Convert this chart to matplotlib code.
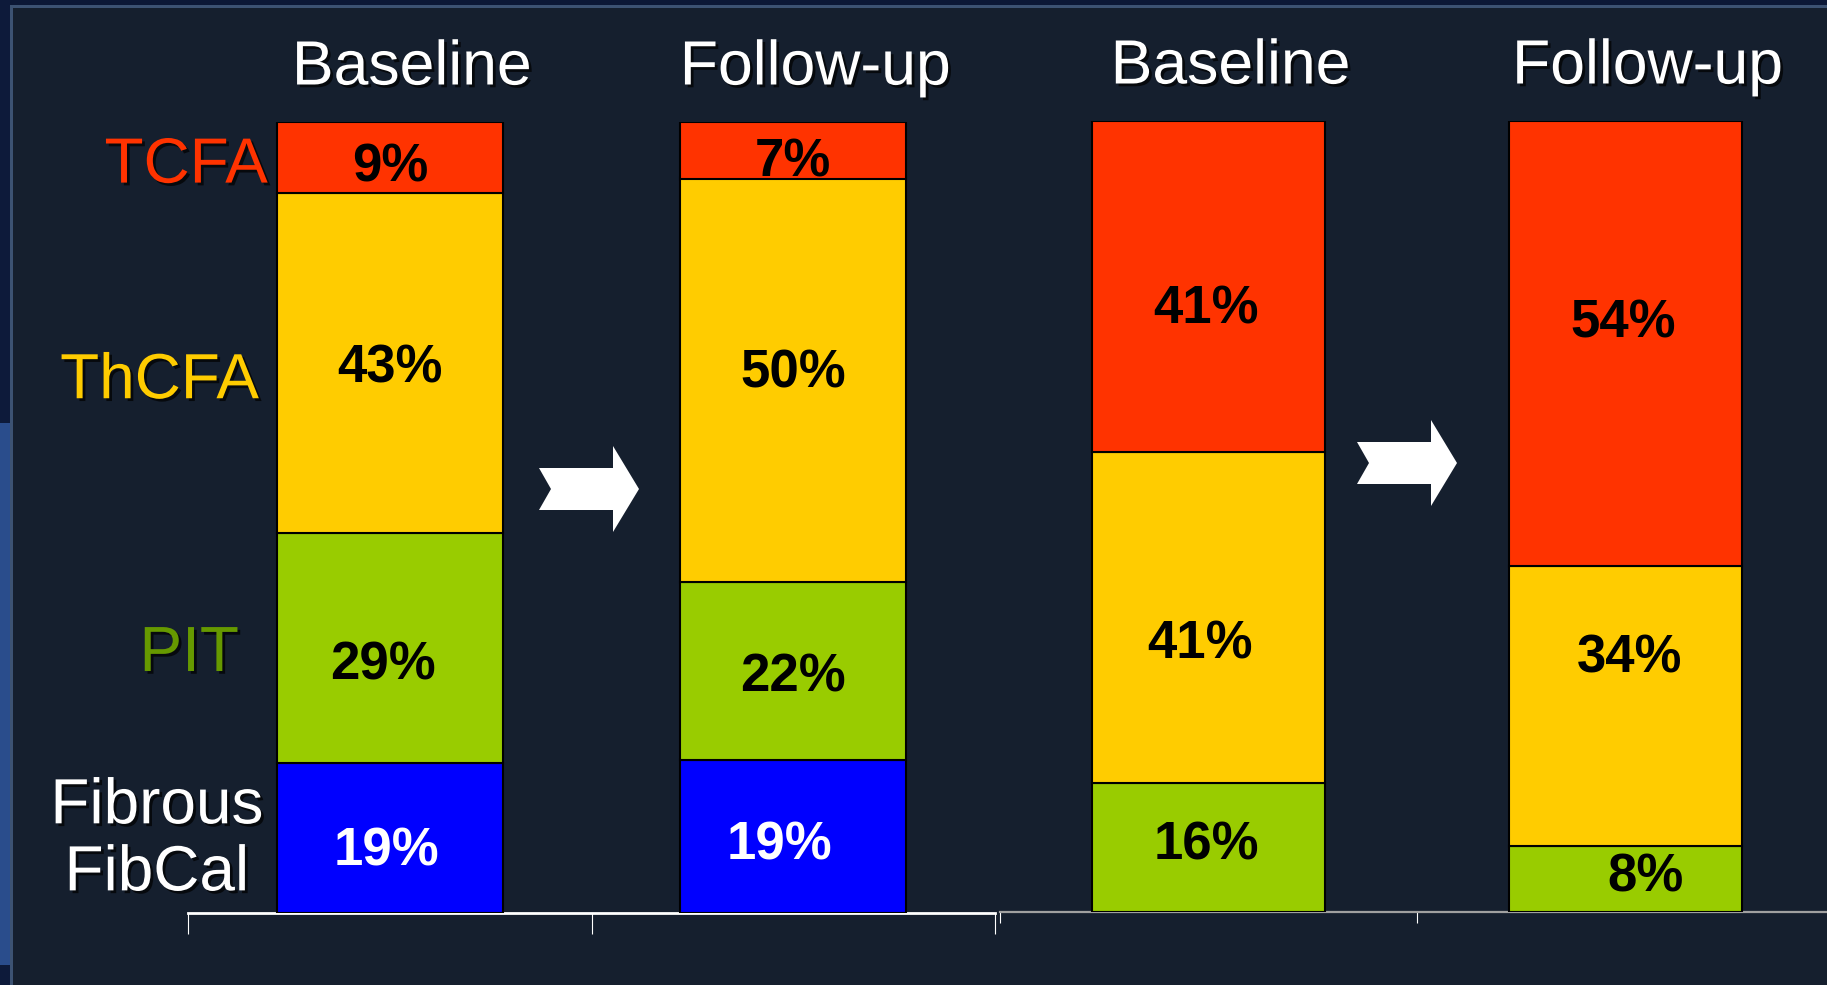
import matplotlib
matplotlib.use("Agg")
import matplotlib.pyplot as plt
import matplotlib.patheffects as pe
from matplotlib.patches import Polygon, Rectangle
import numpy as np

plt.rcParams['font.family'] = ['Liberation Sans', 'DejaVu Sans']

# plaque phenotypes, listed top to bottom of each stacked bar
phenotypes = ["TCFA", "ThCFA", "PIT", "Fibrous\nFibCal"]
timepoints = ["Baseline", "Follow-up"]
# percentages shown in the bars (left group has 4 phenotypes, right group 3)
left_baseline = [9, 43, 29, 19]
left_followup = [7, 50, 22, 19]
right_baseline = [41, 41, 16]
right_followup = [54, 34, 8]

seg_colors = ["#FF3300", "#FFCC00", "#99CC00", "#0000FF"]
name_colors = ["#FF3300", "#FFCC00", "#669900", "white"]
pct_colors = ["black", "black", "black", "white"]

# hand placement of the % labels as on the slide (pixels, dx right / dy down)
nudge_left = [[(0, 10), (0, 5), (-7, 17), (-3, 14)],
              [(0, 12), (0, -7), (0, 7), (-14, 9)]]
nudge_right = [[(-3, 23), (-9, 27), (-2, -2)],
               [(-2, -20), (4, -48), (20, -2)]]

W, H = 1827, 985
BG = "#151f2e"
fig = plt.figure(figsize=(W / 100, H / 100), dpi=100, facecolor=BG)

# slide frame bits (top strip, left strip, thin borders)
fig.add_artist(Rectangle((0, 1 - 5 / H), 1, 5 / H, transform=fig.transFigure, color="#0c1836", lw=0))
fig.add_artist(Rectangle((0, 1 - 8 / H), 1, 3 / H, transform=fig.transFigure, color="#3c5272", lw=0))
fig.add_artist(Rectangle((0, 0), 10 / W, 1, transform=fig.transFigure, color="#0d1a3a", lw=0))
fig.add_artist(Rectangle((0, 20 / H), 10 / W, 0.55, transform=fig.transFigure, color="#2a4d8c", lw=0))
fig.add_artist(Rectangle((10 / W, 0), 3 / W, 1 - 5 / H, transform=fig.transFigure, color="#3c5272", lw=0))

shadow = [pe.withSimplePatchShadow(offset=(2, -2), shadow_rgbFace="black", alpha=0.7)]


def px_axes(x0, x1, ytop, ybot):
    return fig.add_axes([x0 / W, (H - ybot) / H, (x1 - x0) / W, (ybot - ytop) / H])


def draw_group(ax, columns, nudges, spine_color, spine_lw, tick_len):
    ax.set_facecolor("none")
    ax.set_xlim(-0.5, 1.5)
    ax.set_ylim(0, 100)
    for s in ["top", "left", "right"]:
        ax.spines[s].set_visible(False)
    ax.spines["bottom"].set_color(spine_color)
    ax.spines["bottom"].set_linewidth(spine_lw)
    ax.set_yticks([])
    ax.set_xticks([-0.5, 0.5, 1.5])
    ax.set_xticklabels([])
    ax.tick_params(axis="x", length=tick_len, width=0.8, color="white", direction="out")
    centers = []
    for i, vals in enumerate(columns):
        shares = np.array(vals) / sum(vals) * 100  # 100% stacked
        bottom = 0
        col_centers = [0] * len(vals)
        for j in reversed(range(len(vals))):
            ax.bar(i, shares[j], bottom=bottom, width=0.56, color=seg_colors[j],
                   edgecolor="black", linewidth=1.5, zorder=3)
            dx, dy = nudges[i][j]
            ax.annotate(f"{vals[j]}%", xy=(i, bottom + shares[j] / 2), xytext=(dx, -dy),
                        textcoords="offset pixels", ha="center", va="center",
                        fontsize=38, fontweight="bold", color=pct_colors[j], zorder=4)
            col_centers[j] = bottom + shares[j] / 2
            bottom += shares[j]
        centers.append(col_centers)
        ax.annotate(timepoints[i], xy=(i, 100), xytext=(22, 54), textcoords="offset pixels",
                    ha="center", va="center", fontsize=45, color="white",
                    path_effects=shadow, annotation_clip=False)
    return centers


axL = px_axes(188, 995, 122, 913)
axR = px_axes(1000, 1834, 121, 912)

cL = draw_group(axL, [left_baseline, left_followup], nudge_left, "white", 2.0, 15)
draw_group(axR, [right_baseline, right_followup], nudge_right, "#a0a0a0", 1.6, 8)

# phenotype names next to the first bar
gaps = [(-9, -8), (-18, -18), (-38, -6), (-120, -2)]
aligns = ["right", "right", "right", "center"]
for j, name in enumerate(phenotypes):
    axL.annotate(name, xy=(-0.28, cL[0][j]), xytext=gaps[j], textcoords="offset pixels",
                 ha=aligns[j], va="center", fontsize=46, color=name_colors[j],
                 linespacing=1.15, path_effects=shadow, annotation_clip=False)

# white arrows between baseline and follow-up
arrow = np.array([(539, 468), (613, 468), (613, 446), (639, 489), (613, 532),
                  (613, 510), (539, 510), (551, 489)], dtype=float)
for dx, dy in [(0, 0), (818, -26)]:
    pts = arrow + [dx, dy]
    fig.add_artist(Polygon(np.c_[pts[:, 0] / W, 1 - pts[:, 1] / H], closed=True,
                           transform=fig.transFigure, facecolor="white", edgecolor="none"))

fig.savefig("out.png", dpi=100, facecolor=BG)
